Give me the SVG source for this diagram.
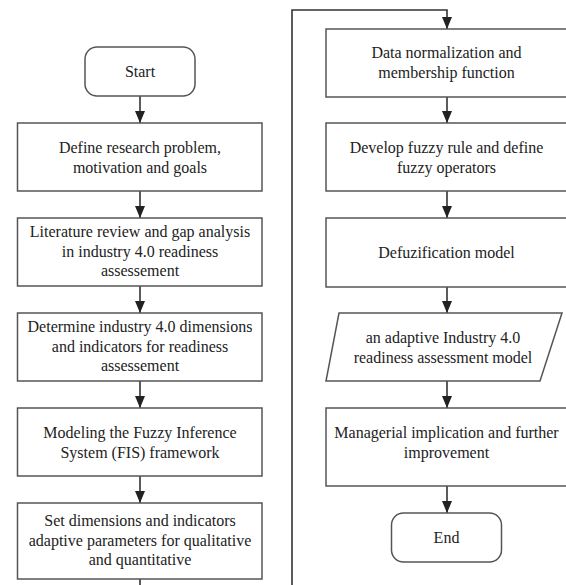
<svg xmlns="http://www.w3.org/2000/svg" width="566" height="585" viewBox="0 0 566 585">
<style>
.box{fill:#fff;stroke:#555;stroke-width:1.5}
.t{font-family:"Times New Roman",Times,"Liberation Serif","Noto Serif","DejaVu Serif",FreeSerif,Georgia,serif;font-size:16px;fill:#222;text-anchor:middle}
.c{fill:none;stroke:#333;stroke-width:1.6}
</style>
<defs>
<marker id="a" viewBox="0 0 12 10" refX="12" refY="5" markerWidth="12" markerHeight="10" markerUnits="userSpaceOnUse" orient="auto">
<path d="M0,0 L12,5 L0,10 Z" fill="#222"/>
</marker>
</defs>
<rect width="566" height="585" fill="#fff"/>
<g id="connectors">
<path class="c" d="M140,96 V123" marker-end="url(#a)"/>
<path class="c" d="M140,191 V218" marker-end="url(#a)"/>
<path class="c" d="M140,286 V313" marker-end="url(#a)"/>
<path class="c" d="M140,381 V408" marker-end="url(#a)"/>
<path class="c" d="M140,476 V503" marker-end="url(#a)"/>
<path class="c" d="M140,579 V600 H292 V10 H447 V29" marker-end="url(#a)"/>
<path class="c" d="M447,97 V123" marker-end="url(#a)"/>
<path class="c" d="M447,191 V218" marker-end="url(#a)"/>
<path class="c" d="M447,287 V313" marker-end="url(#a)"/>
<path class="c" d="M447,381 V408" marker-end="url(#a)"/>
<path class="c" d="M447,486 V513" marker-end="url(#a)"/>
</g>
<g id="start">
<rect class="box" x="85" y="47" width="110" height="49" rx="12"/>
<text class="t" x="140" y="77">Start</text>
</g>
<g id="define">
<rect class="box" x="17.5" y="123" width="244.5" height="68"/>
<text class="t" x="140" y="153">Define research problem,</text>
<text class="t" x="140" y="172.5">motivation and goals</text>
</g>
<g id="literature">
<rect class="box" x="17.5" y="218" width="244.5" height="68"/>
<text class="t" x="140" y="237">Literature review and gap analysis</text>
<text class="t" x="140" y="256.5">in industry 4.0 readiness</text>
<text class="t" x="140" y="276">assessement</text>
</g>
<g id="determine">
<rect class="box" x="17.5" y="313" width="244.5" height="68"/>
<text class="t" x="140" y="332">Determine industry 4.0 dimensions</text>
<text class="t" x="140" y="351.5">and indicators for readiness</text>
<text class="t" x="140" y="371">assessement</text>
</g>
<g id="modeling">
<rect class="box" x="17.5" y="408" width="244.5" height="68"/>
<text class="t" x="140" y="438">Modeling the Fuzzy Inference</text>
<text class="t" x="140" y="457.5">System (FIS) framework</text>
</g>
<g id="set">
<rect class="box" x="17.5" y="503" width="244.5" height="76"/>
<text class="t" x="140" y="526">Set dimensions and indicators</text>
<text class="t" x="140" y="545.5">adaptive parameters for qualitative</text>
<text class="t" x="140" y="565">and quantitative</text>
</g>
<g id="normalization">
<rect class="box" x="326" y="29" width="241" height="68"/>
<text class="t" x="446.5" y="58">Data normalization and</text>
<text class="t" x="446.5" y="77.5">membership function</text>
</g>
<g id="rule">
<rect class="box" x="326" y="123" width="241" height="68"/>
<text class="t" x="446.5" y="153">Develop fuzzy rule and define</text>
<text class="t" x="446.5" y="172.5">fuzzy operators</text>
</g>
<g id="defuzification">
<rect class="box" x="326" y="218" width="241" height="69"/>
<text class="t" x="446.5" y="258">Defuzification model</text>
</g>
<g id="output">
<polygon class="box" points="339,313 562,313 540,381 326,381"/>
<text class="t" x="443" y="343">an adaptive Industry 4.0</text>
<text class="t" x="443" y="362.5">readiness assessment model</text>
</g>
<g id="managerial">
<rect class="box" x="326" y="408" width="241" height="78"/>
<text class="t" x="446.5" y="438">Managerial implication and further</text>
<text class="t" x="446.5" y="457.5">improvement</text>
</g>
<g id="end">
<rect class="box" x="391.5" y="513" width="110" height="49" rx="12"/>
<text class="t" x="446.5" y="543">End</text>
</g>
</svg>
